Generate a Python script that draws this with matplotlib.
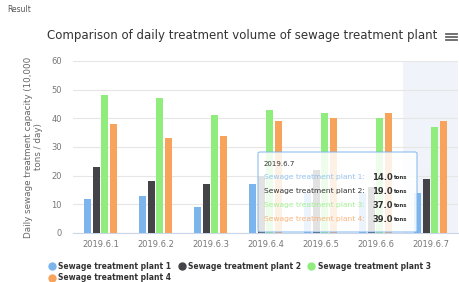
import matplotlib
matplotlib.use('Agg')
import matplotlib.pyplot as plt
from matplotlib.patches import FancyBboxPatch
from matplotlib.lines import Line2D
import numpy as np

# data
days = ['2019.6.1', '2019.6.2', '2019.6.3', '2019.6.4', '2019.6.5', '2019.6.6', '2019.6.7']
plant1 = [12, 13, 9, 17, 14, 14, 14]
plant2 = [23, 18, 17, 20, 22, 16, 19]
plant3 = [48, 47, 41, 43, 42, 40, 37]
plant4 = [38, 33, 34, 39, 40, 42, 39]
names = ['Sewage treatment plant 1', 'Sewage treatment plant 2',
         'Sewage treatment plant 3', 'Sewage treatment plant 4']
colors = ['#7cb5ec', '#434348', '#90ed7d', '#f7a35c']
yticks = [0, 10, 20, 30, 40, 50, 60]

W, H = 460, 282
fig = plt.figure(figsize=(W / 100, H / 100), dpi=100)

def px(x, y):
    # pixel coords (from top-left) to figure fraction
    return x / W, 1 - y / H

ax = fig.add_axes([73 / W, 49 / H, 385 / W, 172 / H])
x = np.arange(len(days))
series = [plant1, plant2, plant3, plant4]
bw = 0.125
step = 0.155
for i, (vals, c) in enumerate(zip(series, colors)):
    ax.bar(x + (i - 1.5) * step, vals, width=bw, color=c, zorder=3)

# hovered category band
ax.axvspan(x[-1] - 0.5, x[-1] + 0.5, color='#e6ebf5', alpha=0.6, zorder=1, lw=0)

ax.set_xlim(-0.5, len(days) - 0.5)
ax.set_ylim(0, 60)
ax.set_yticks(yticks)
ax.set_xticks(x)
ax.set_xticklabels(days)
ax.grid(axis='y', color='#e6e6e6', lw=0.8, zorder=0)
for s in ['top', 'right', 'left']:
    ax.spines[s].set_visible(False)
ax.spines['bottom'].set_color('#ccd6eb')
ax.tick_params(axis='both', length=0, labelsize=6, colors='#777777')
ax.tick_params(axis='x', pad=5)
ax.tick_params(axis='y', pad=8)
ax.set_ylabel('Daily sewage treatment capacity (10,000\ntons / day)',
              fontsize=6.3, color='#666666', labelpad=6, linespacing=1.1)

# title and header
fig.text(*px(7, 10), 'Result', fontsize=5.5, color='#555555', va='center')
fig.text(*px(242, 36), 'Comparison of daily treatment volume of sewage treatment plant',
         fontsize=8.5, color='#333333', ha='center', va='center')
for dy in (-3, 0, 3):
    fig.add_artist(Line2D([446 / W, 457 / W], [1 - (37 + dy) / H] * 2, color='#666666', lw=1.3))

# tooltip for last day
x0, y0, x1, y1 = 258, 152, 417, 232
box = FancyBboxPatch(px(x0, y1), (x1 - x0) / W, (y1 - y0) / H,
                     boxstyle='round,pad=0,rounding_size=0.005',
                     transform=fig.transFigure, facecolor='white', alpha=0.85,
                     edgecolor='#7cb5ec', lw=0.8, zorder=10)
fig.add_artist(box)
fig.text(*px(264, 164), days[-1], fontsize=5, color='#333333', va='center', zorder=11)
for i, (vals, c) in enumerate(zip(series, colors)):
    yy = 177.5 + i * 14
    fig.text(*px(264, yy), names[i] + ':', fontsize=5.4, color=c if i != 1 else '#333333',
             alpha=0.8 if i != 1 else 1, va='center', zorder=11)
    fig.text(*px(393, yy), f'{vals[-1]:.1f}', fontsize=6, color='#333333', fontweight='bold',
             va='center', ha='right', zorder=11)
    fig.text(*px(394, yy), 'tons', fontsize=4, color='#333333', fontweight='bold',
             va='center', zorder=11)

# legend
handles = [Line2D([], [], marker='o', ls='', color=c, markersize=5) for c in colors]
order = [0, 3, 1, 2]
fig.legend([handles[i] for i in order], [names[i] for i in order], ncol=3,
           loc='upper left', bbox_to_anchor=px(45, 259), frameon=False,
           prop={'size': 5.5, 'weight': 'bold'}, labelcolor='#333333',
           handletextpad=0.3, columnspacing=0.9, labelspacing=0.3, borderaxespad=0,
           handlelength=1)

fig.savefig('out.png', dpi=100)
